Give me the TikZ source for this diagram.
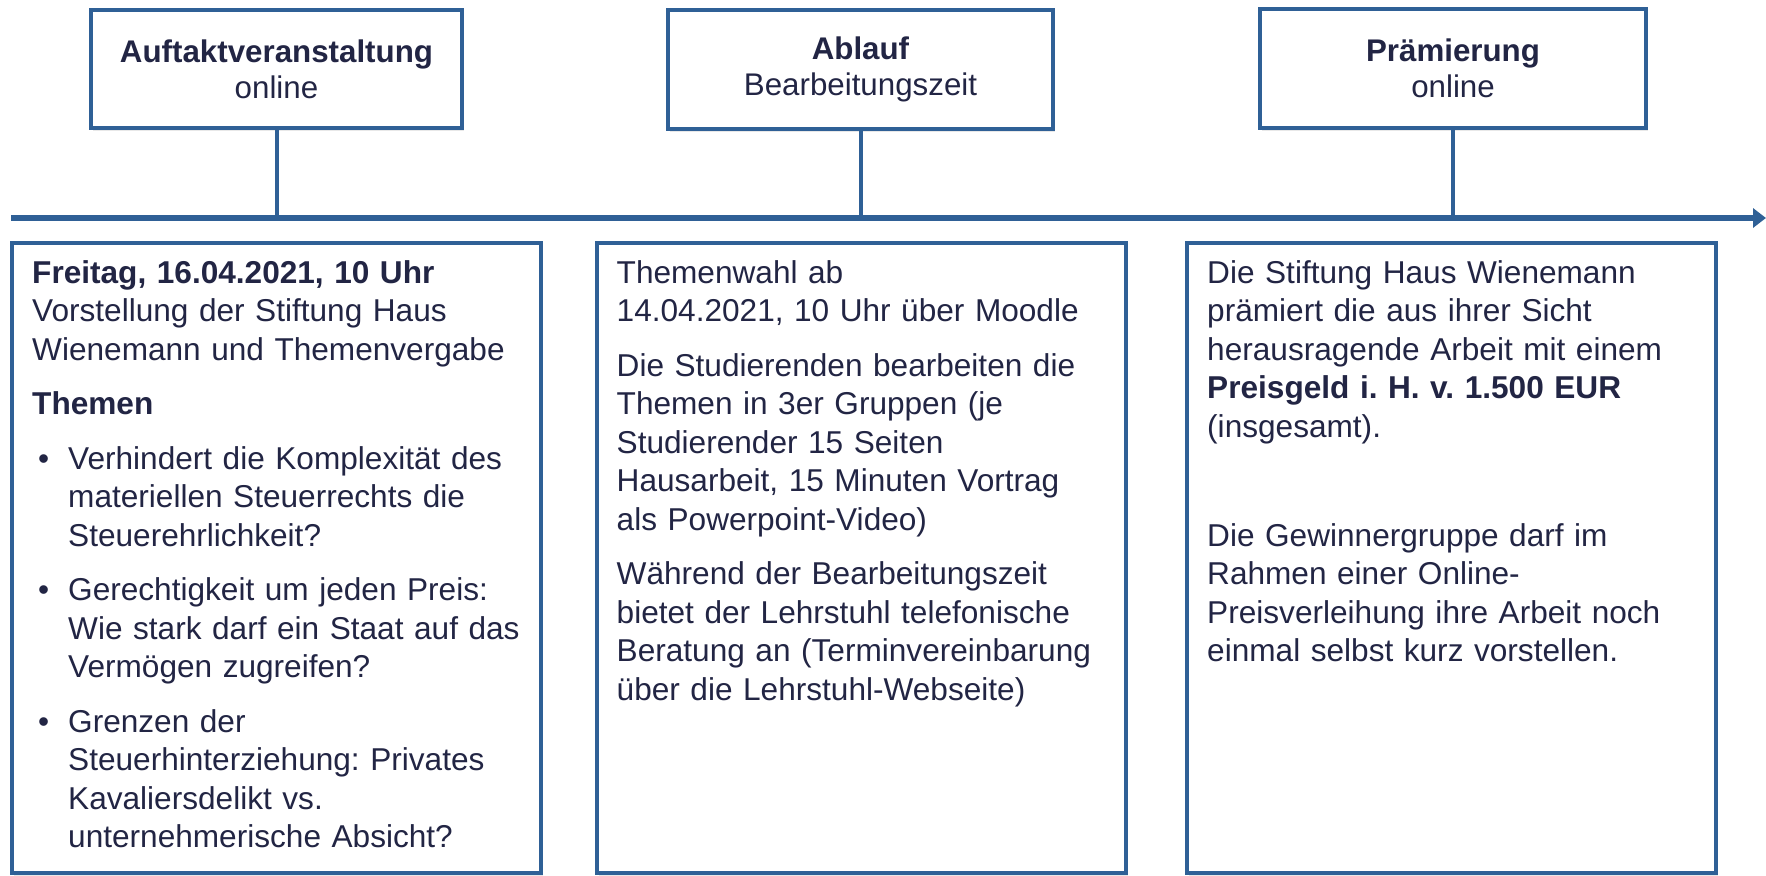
\documentclass[tikz,border=0pt]{standalone}
\usepackage{fontspec}
\setmainfont{Liberation Sans}
\usetikzlibrary{arrows.meta,shadows}
\definecolor{linieblau}{RGB}{47,96,150}
\definecolor{schrift}{RGB}{34,37,68}
% Aufzaehlungspunkt mit haengendem Einzug
\newcommand{\punkt}[1]{\par\hangindent=36pt\hangafter=1\noindent
  \hspace*{6pt}\makebox[30pt][l]{\textbullet}#1\par}
\begin{document}
\frenchspacing
\begin{tikzpicture}[
        x=1pt,y=-1pt,
        phase/.style={draw=linieblau,line width=4pt,fill=white,align=center,
            minimum height=118pt,inner sep=0pt,text=schrift,
            font=\fontsize{31.3}{36}\selectfont,
            drop shadow={shadow xshift=2pt,shadow yshift=-3pt,opacity=.18}},
        info/.style={draw=linieblau,line width=4pt,fill=white,
            minimum width=529pt,minimum height=630pt,inner sep=0pt,
            drop shadow={shadow xshift=2pt,shadow yshift=-3pt,opacity=.18}},
        inhalt/.style={anchor=base west,inner sep=0pt,text=schrift,align=left,
            text width=505pt,font=\fontsize{31.6}{38.5}\selectfont,
            execute at begin node={\setlength{\parskip}{16pt}}},
        achse/.style={draw=linieblau,line width=5.5pt,-{Triangle[length=13pt,width=19pt]}},
        stiel/.style={draw=linieblau,line width=4pt},
        ]
    \useasboundingbox (0,0) rectangle (1766,875);
    % Zeitachse
    \coordinate (start) at (11,218);
    \coordinate (ende) at (1766,218);

    % Phasen oben
    \node[phase,minimum width=371pt] (auftakt) at (276.5,69)
        {\textbf{Auftaktveranstaltung}\\online};
    \node[phase,minimum width=385pt] (ablauf) at (860.5,69.5)
        {\textbf{Ablauf}\\Bearbeitungszeit};
    \node[phase,minimum width=386pt] (praemie) at (1453,68.5)
        {\textbf{Prämierung}\\online};

    \draw[stiel] (auftakt.south) -- (auftakt.south |- start);
    \draw[stiel] (ablauf.south) -- (ablauf.south |- start);
    \draw[stiel] (praemie.south) -- (praemie.south |- start);
    \draw[achse] (start) -- (ende);

    % Kaesten unten
    \node[info] (info1) at (276.5,558) {};
    \node[info] (info2) at (861,558) {};
    \node[info] (info3) at (1451.5,558) {};

    \node[inhalt] (text1) at ([shift={(22,42)}]info1.north west) {%
        \textbf{Freitag, 16.04.2021, 10 Uhr}\\
        Vorstellung der Stiftung Haus\\
        Wienemann und Themenvergabe\par
        \textbf{Themen}
        \punkt{Verhindert die Komplexität des\newline materiellen Steuerrechts die\newline Steuerehrlichkeit?}
        \punkt{Gerechtigkeit um jeden Preis:\newline Wie stark darf ein Staat auf das\newline Vermögen zugreifen?}
        \punkt{Grenzen der\newline Steuerhinterziehung: Privates\newline Kavaliersdelikt vs.\newline unternehmerische Absicht?}};
    \node[inhalt] (text2) at ([shift={(22,42)}]info2.north west) {%
        Themenwahl ab\\
        14.04.2021, 10 Uhr über Moodle\par
        Die Studierenden bearbeiten die\\
        Themen in 3er Gruppen (je\\
        Studierender 15 Seiten\\
        Hausarbeit, 15 Minuten Vortrag\\
        als Powerpoint-Video)\par
        Während der Bearbeitungszeit\\
        bietet der Lehrstuhl telefonische\\
        Beratung an (Terminvereinbarung\\
        über die Lehrstuhl-Webseite)};
    \node[inhalt] (text3) at ([shift={(22,42)}]info3.north west) {%
        Die Stiftung Haus Wienemann\\
        prämiert die aus ihrer Sicht\\
        herausragende Arbeit mit einem\\
        \textbf{Preisgeld i. H. v. 1.500 EUR}\\
        (insgesamt).\par
        \mbox{}\par
        Die Gewinnergruppe darf im\\
        Rahmen einer Online-\\
        Preisverleihung ihre Arbeit noch\\
        einmal selbst kurz vorstellen.};
\end{tikzpicture}
\end{document}
